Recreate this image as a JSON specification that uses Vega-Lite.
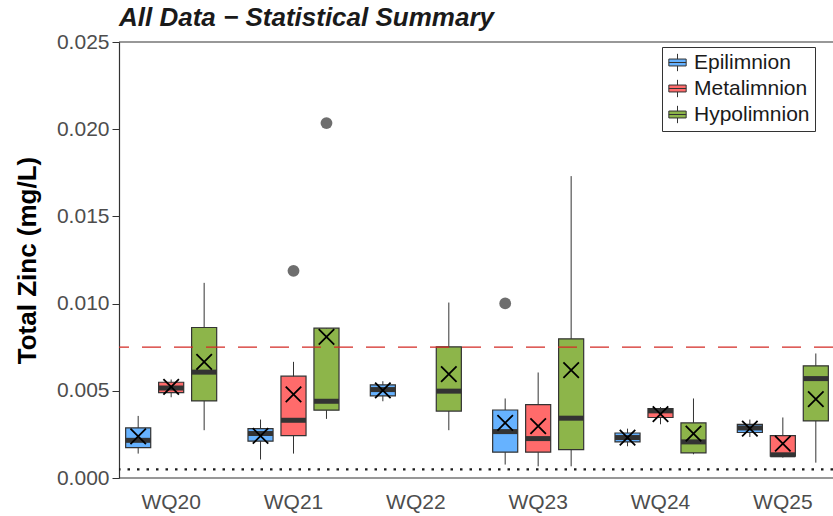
{
  "$schema": "https://vega.github.io/schema/vega-lite/v6.json",
  "autosize": {"type": "none"},
  "padding": {"left": 119, "top": 42, "right": 0, "bottom": 38},
  "width": 714,
  "height": 436,
  "background": "white",
  "config": {
    "view": {"stroke": null},
    "font": "Liberation Sans"
  },
  "title": {
    "text": "All Data − Statistical Summary",
    "anchor": "start",
    "frame": "group",
    "font": "Liberation Sans",
    "fontSize": 26,
    "fontWeight": "bold",
    "fontStyle": "italic",
    "color": "#1a1a1a",
    "offset": 0
  },
  "datasets": {
    "stats": [
      {"site": "WQ20", "layer": "Epilimnion", "lower": 0.0014, "q1": 0.00174, "median": 0.00216, "q3": 0.00287, "upper": 0.00356, "mean": 0.00239},
      {"site": "WQ20", "layer": "Metalimnion", "lower": 0.00463, "q1": 0.0049, "median": 0.00516, "q3": 0.00549, "upper": 0.00565, "mean": 0.00522},
      {"site": "WQ20", "layer": "Hypolimnion", "lower": 0.00274, "q1": 0.00442, "median": 0.00607, "q3": 0.00863, "upper": 0.01119, "mean": 0.00666},
      {"site": "WQ21", "layer": "Epilimnion", "lower": 0.00106, "q1": 0.00211, "median": 0.00255, "q3": 0.00283, "upper": 0.00335, "mean": 0.00241},
      {"site": "WQ21", "layer": "Metalimnion", "lower": 0.0014, "q1": 0.00243, "median": 0.00331, "q3": 0.00584, "upper": 0.00666, "mean": 0.00479},
      {"site": "WQ21", "layer": "Hypolimnion", "lower": 0.00339, "q1": 0.00389, "median": 0.0044, "q3": 0.00859, "upper": 0.00859, "mean": 0.00809},
      {"site": "WQ22", "layer": "Epilimnion", "lower": 0.0044, "q1": 0.00471, "median": 0.00507, "q3": 0.00534, "upper": 0.00555, "mean": 0.00503},
      {"site": "WQ22", "layer": "Hypolimnion", "lower": 0.00274, "q1": 0.00384, "median": 0.00498, "q3": 0.00752, "upper": 0.01006, "mean": 0.00595},
      {"site": "WQ23", "layer": "Epilimnion", "lower": 0.00077, "q1": 0.00148, "median": 0.00266, "q3": 0.0039, "upper": 0.00456, "mean": 0.00316},
      {"site": "WQ23", "layer": "Metalimnion", "lower": 0.00067, "q1": 0.00148, "median": 0.00226, "q3": 0.00421, "upper": 0.00605, "mean": 0.00298},
      {"site": "WQ23", "layer": "Hypolimnion", "lower": 0.00067, "q1": 0.00163, "median": 0.00343, "q3": 0.00798, "upper": 0.01731, "mean": 0.00618},
      {"site": "WQ24", "layer": "Epilimnion", "lower": 0.00182, "q1": 0.00207, "median": 0.00232, "q3": 0.00258, "upper": 0.00283, "mean": 0.00232},
      {"site": "WQ24", "layer": "Metalimnion", "lower": 0.00308, "q1": 0.00347, "median": 0.00385, "q3": 0.00398, "upper": 0.00407, "mean": 0.00366},
      {"site": "WQ24", "layer": "Hypolimnion", "lower": 0.00136, "q1": 0.00144, "median": 0.00207, "q3": 0.00316, "upper": 0.00456, "mean": 0.00255},
      {"site": "WQ25", "layer": "Epilimnion", "lower": 0.00235, "q1": 0.00261, "median": 0.00287, "q3": 0.00308, "upper": 0.00335, "mean": 0.00283},
      {"site": "WQ25", "layer": "Metalimnion", "lower": 0.00117, "q1": 0.00125, "median": 0.00133, "q3": 0.00243, "upper": 0.00347, "mean": 0.00197},
      {"site": "WQ25", "layer": "Hypolimnion", "lower": 0.00088, "q1": 0.00327, "median": 0.0057, "q3": 0.00643, "upper": 0.00714, "mean": 0.00452}
    ],
    "outliers": [
      {"site": "WQ21", "layer": "Metalimnion", "value": 0.01188},
      {"site": "WQ21", "layer": "Hypolimnion", "value": 0.02035},
      {"site": "WQ23", "layer": "Epilimnion", "value": 0.01001}
    ],
    "refs": [
      {"kind": "guideline", "value": 0.0075},
      {"kind": "detection", "value": 0.0005}
    ]
  },
  "encoding": {
    "x": {
      "field": "site",
      "type": "nominal",
      "sort": ["WQ20", "WQ21", "WQ22", "WQ23", "WQ24", "WQ25"],
      "scale": {"domain": ["WQ20", "WQ21", "WQ22", "WQ23", "WQ24", "WQ25"], "range": [-9, 725], "paddingInner": 0, "paddingOuter": 0},
      "axis": {
        "title": null,
        "labelAngle": 0,
        "labelFontSize": 21,
        "labelColor": "#4d4d4d",
        "labelFont": "Liberation Sans",
        "ticks": false,
        "domain": false,
        "labelPadding": 13
      }
    },
    "xOffset": {
      "field": "layer",
      "type": "nominal",
      "scale": {"domain": ["Epilimnion", "Metalimnion", "Hypolimnion"], "paddingInner": 0.24, "paddingOuter": 0.4745}
    }
  },
  "layer": [
    {
      "data": {"name": "stats"},
      "mark": {"type": "rule", "color": "#333333", "strokeWidth": 1},
      "encoding": {
        "y": {
          "field": "lower",
          "type": "quantitative",
          "scale": {"domain": [0, 0.025], "nice": false, "zero": true},
          "axis": {
            "title": "Total Zinc (mg/L)",
            "titleFontSize": 26,
            "titleFontWeight": "bold",
            "titleColor": "#000000",
            "titleFont": "Liberation Sans",
            "titlePadding": 16,
            "values": [0, 0.005, 0.01, 0.015, 0.02, 0.025],
            "format": ".3f",
            "labelFontSize": 21,
            "labelColor": "#4d4d4d",
            "labelFont": "Liberation Sans",
            "labelPadding": 3,
            "tickSize": 7,
            "tickColor": "#333333",
            "domainColor": "#333333",
            "domainWidth": 1.2,
            "grid": false
          }
        },
        "y2": {"field": "upper"}
      }
    },
    {
      "data": {"name": "stats"},
      "mark": {"type": "bar", "stroke": "#333333", "strokeWidth": 1.2},
      "encoding": {
        "y": {"field": "q1", "type": "quantitative"},
        "y2": {"field": "q3"},
        "fill": {
          "field": "layer",
          "type": "nominal",
          "scale": {"domain": ["Epilimnion", "Metalimnion", "Hypolimnion"], "range": ["#66B2FF", "#FF6B6B", "#8DB54A"]},
          "legend": {
            "title": null,
            "orient": "none",
            "legendX": 543,
            "legendY": 5,
            "strokeColor": "#333333",
            "padding": 5,
            "fillColor": "white",
            "labelFontSize": 21,
            "labelFont": "Liberation Sans",
            "labelColor": "#1a1a1a",
            "symbolType": "M-1,-0.4H1V0.4H-1Z M-1,0H1 M0,-0.4V-1 M0,0.4V1",
            "symbolSize": 300,
            "symbolStrokeColor": "#333333",
            "symbolStrokeWidth": 1,
            "symbolOpacity": 1,
            "rowPadding": 3,
            "labelOffset": 6
          }
        }
      }
    },
    {
      "data": {"name": "stats"},
      "mark": {"type": "tick", "orient": "horizontal", "color": "#333333", "thickness": 5, "size": 25, "opacity": 1},
      "encoding": {
        "y": {"field": "median", "type": "quantitative"}
      }
    },
    {
      "data": {"name": "outliers"},
      "mark": {"type": "point", "shape": "circle", "filled": true, "color": "#555555", "opacity": 0.85, "size": 140},
      "encoding": {
        "y": {"field": "value", "type": "quantitative"}
      }
    },
    {
      "data": {"name": "refs"},
      "transform": [{"filter": "datum.kind === 'guideline'"}],
      "mark": {"type": "rule", "color": "#D42A25", "strokeWidth": 1.3, "strokeDash": [19, 13]},
      "encoding": {
        "y": {"field": "value", "type": "quantitative"},
        "x": null,
        "xOffset": null
      }
    },
    {
      "data": {"name": "refs"},
      "transform": [{"filter": "datum.kind === 'detection'"}],
      "mark": {"type": "rule", "color": "#1a1a1a", "strokeWidth": 2.2, "strokeDash": [2.5, 7]},
      "encoding": {
        "y": {"field": "value", "type": "quantitative"},
        "x": null,
        "xOffset": null
      }
    },
    {
      "data": {"name": "stats"},
      "mark": {"type": "point", "shape": "M-1,-1L1,1M-1,1L1,-1", "color": "#000000", "strokeWidth": 1.8, "size": 240, "opacity": 1, "filled": false},
      "encoding": {
        "y": {"field": "mean", "type": "quantitative"}
      }
    },
    {
      "data": {"values": [{"edge": 0}, {"edge": 0.025}]},
      "mark": {"type": "rule", "color": "#333333", "strokeWidth": 1.2},
      "encoding": {
        "y": {"field": "edge", "type": "quantitative"},
        "x": null,
        "xOffset": null
      }
    }
  ]
}
